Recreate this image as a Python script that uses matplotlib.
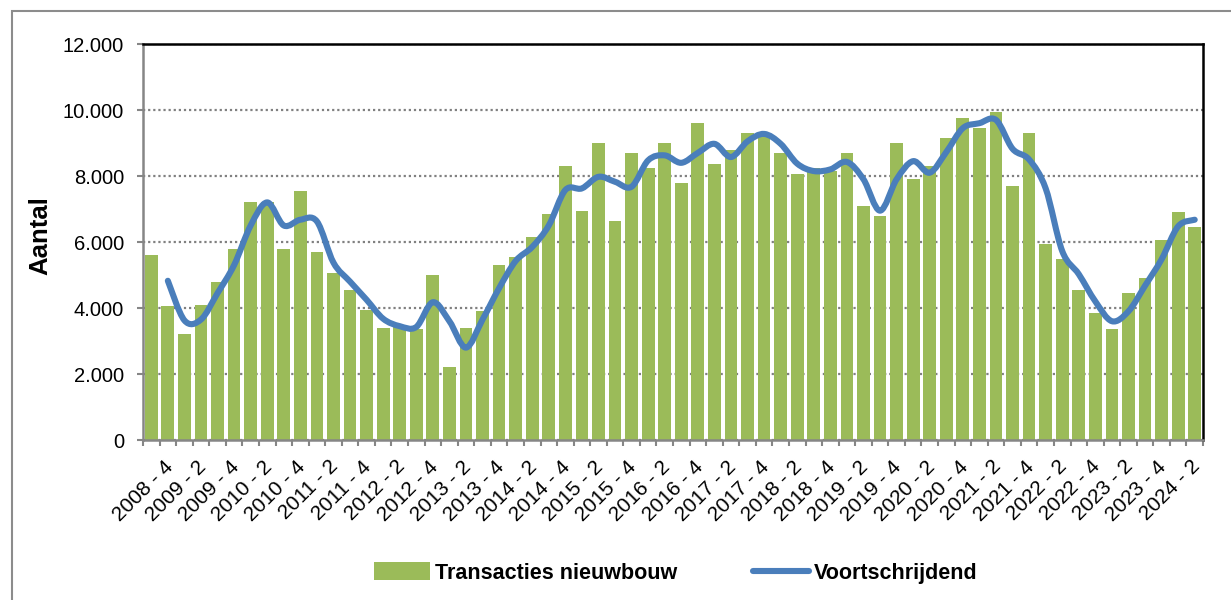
import numpy as np
import matplotlib
matplotlib.use("Agg")
import matplotlib.pyplot as plt
import matplotlib.transforms as mtransforms
from matplotlib.path import Path
from matplotlib.patches import PathPatch, Rectangle, Patch
from matplotlib.lines import Line2D
from matplotlib.ticker import FuncFormatter

plt.rcParams['font.family'] = ['Liberation Sans', 'DejaVu Sans']

# quarters 2008-3 .. 2024-2
quarters = [f"{y} - {q}" for y in range(2008, 2025) for q in range(1, 5)][2:-2]

transacties = [5600, 4050, 3200, 4100, 4800, 5800, 7200, 7200, 5800, 7550,
               5700, 5050, 4550, 3950, 3400, 3500, 3350, 5000, 2200, 3400,
               3900, 5300, 5550, 6150, 6850, 8300, 6950, 9000, 6650, 8700,
               8250, 9000, 7800, 9600, 8350, 8800, 9300, 9250, 8700, 8050,
               8250, 8150, 8700, 7100, 6800, 9000, 7900, 8300, 9150, 9750,
               9450, 9950, 7700, 9300, 5950, 5500, 4550, 3850, 3350, 4450,
               4900, 6050, 6900, 6450]

# moving average, starts at the second quarter
voortschrijdend = [4825, 3625, 3650, 4450, 5300, 6500, 7200, 6500, 6675,
                   6625, 5375, 4800, 4250, 3675, 3450, 3425, 4175, 3600, 2800,
                   3650, 4600, 5425, 5850, 6500, 7575, 7625, 7975, 7825, 7675,
                   8475, 8625, 8400, 8700, 8975, 8575, 9050, 9275, 8975, 8375,
                   8150, 8200, 8425, 7900, 6950, 7900, 8450, 8100, 8725, 9450,
                   9600, 9700, 8825, 8500, 7625, 5725, 5025, 4200, 3600, 3900,
                   4675, 5475, 6475, 6675]

GREEN = '#9BBB59'
BLUE = '#4A7EBB'
GREY = '#868686'


def smooth_path(x, y):
    # Excel style smoothed line (cubic bezier through the points)
    x = np.asarray(x, float)
    y = np.asarray(y, float)
    px = np.concatenate([[x[0]], x, [x[-1]]])
    py = np.concatenate([[y[0]], y, [y[-1]]])
    verts = [(x[0], y[0])]
    codes = [Path.MOVETO]
    for i in range(len(x) - 1):
        c1 = (x[i] + (px[i + 2] - px[i]) / 6, y[i] + (py[i + 2] - py[i]) / 6)
        c2 = (x[i + 1] - (px[i + 3] - px[i + 1]) / 6,
              y[i + 1] - (py[i + 3] - py[i + 1]) / 6)
        verts += [c1, c2, (x[i + 1], y[i + 1])]
        codes += [Path.CURVE4] * 3
    return Path(verts, codes)


fig = plt.figure(figsize=(12.31, 6.0), dpi=100)
ax = fig.add_axes([143 / 1231, 1 - 440 / 600, 1060 / 1231, 396 / 600])

x = np.arange(len(transacties))
ax.bar(x, transacties, width=0.77, color=GREEN, zorder=2)

xl = x[1:]
ax.add_patch(PathPatch(smooth_path(xl, voortschrijdend), facecolor='none',
                       edgecolor=BLUE, lw=4.4, capstyle='round',
                       joinstyle='round', zorder=3))

ax.set_xlim(-0.5, len(transacties) - 0.5)
ax.set_ylim(0, 12000)
ax.set_yticks(np.arange(0, 12001, 2000))
ax.yaxis.set_major_formatter(FuncFormatter(lambda v, p: f"{int(v):,}".replace(",", ".")))
ax.yaxis.grid(True, ls=(0, (1, 1.3)), color='#808080', lw=1.6)
ax.set_axisbelow(True)

# tick marks at category boundaries, labels on every second quarter
ax.set_xticks(np.arange(-0.5, len(transacties), 1))
ax.set_xticklabels([])
ax.set_xticks(x[1::2], minor=True)
ax.set_xticklabels(quarters[1::2], minor=True, rotation=45, ha='right',
                   va='center', rotation_mode='anchor', fontsize=15)
ax.tick_params(axis='x', which='minor', length=0, pad=17)
ax.tick_params(axis='x', which='major', length=4, width=1.5, color=GREY)
ax.tick_params(axis='y', length=4.5, width=1.5, color=GREY, labelsize=14.5, pad=9)
offset = mtransforms.ScaledTranslation(2 / 100, 0, fig.dpi_scale_trans)
for lab in ax.get_xticklabels(minor=True):
    lab.set_transform(lab.get_transform() + offset)

for s in ['left', 'bottom']:
    ax.spines[s].set_color(GREY)
    ax.spines[s].set_linewidth(1.8)
for s in ['top', 'right']:
    ax.spines[s].set_color('black')
    ax.spines[s].set_linewidth(1.8)

fig.text(40 / 1231, 1 - 236 / 600, 'Aantal', rotation=90, ha='center',
         va='center', fontsize=18.5, fontweight='bold')

handles = [Patch(facecolor=GREEN, edgecolor='none'),
           Line2D([], [], color=BLUE, lw=4.4, solid_capstyle='round')]
fig.legend(handles, ['Transacties nieuwbouw', 'Voortschrijdend'],
           loc='center', bbox_to_anchor=(676 / 1231, 1 - 573 / 600), ncol=2,
           frameon=False, prop={'weight': 'bold', 'size': 15.5},
           handlelength=2.6, handleheight=0.9, handletextpad=0.25,
           columnspacing=3.5)

fig.patches.append(Rectangle((12 / 1231, -0.1), 1.2, 1.1 - 11 / 600,
                             transform=fig.transFigure, fill=False,
                             edgecolor='#8c8c8c', lw=1.5, zorder=-1))

fig.savefig('out.png', dpi=100)
